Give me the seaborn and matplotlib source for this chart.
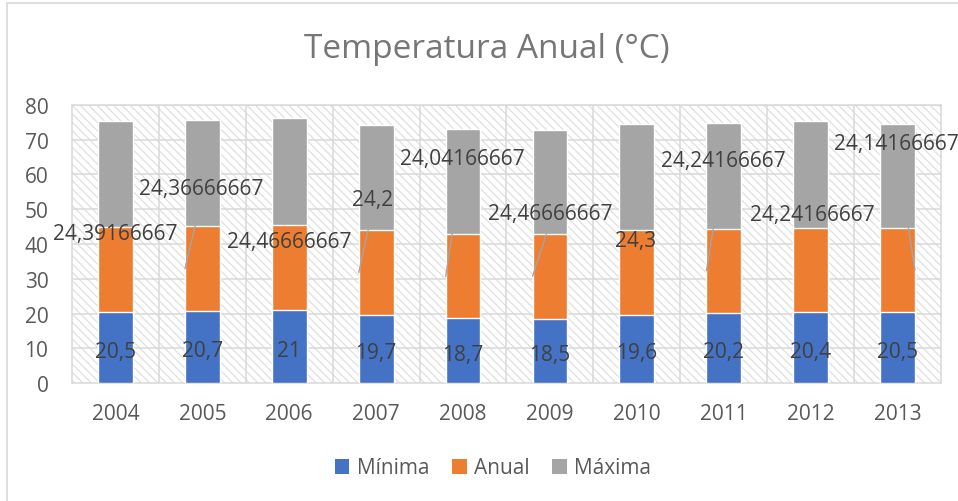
import matplotlib
matplotlib.use("Agg")
import matplotlib.pyplot as plt
import seaborn as sns
import numpy as np
import pandas as pd
from matplotlib.patches import Rectangle

# ---- data ----
years = ["2004", "2005", "2006", "2007", "2008", "2009", "2010", "2011", "2012", "2013"]
minima = [20.5, 20.7, 21, 19.7, 18.7, 18.5, 19.6, 20.2, 20.4, 20.5]
anual = [24.39166667, 24.36666667, 24.46666667, 24.2, 24.04166667,
         24.46666667, 24.3, 24.24166667, 24.24166667, 24.14166667]
anual_labels = ["24,39166667", "24,36666667", "24,46666667", "24,2", "24,04166667",
                "24,46666667", "24,3", "24,24166667", "24,24166667", "24,14166667"]
minima_labels = ["20,5", "20,7", "21", "19,7", "18,7", "18,5", "19,6", "20,2", "20,4", "20,5"]
maxima = [30.3, 30.6, 30.6, 30.3, 30.3, 29.7, 30.6, 30.4, 30.6, 29.8]
series = ["Mínima", "Anual", "Máxima"]

# ---- label layout (positions of the Anual data labels, data coords) ----
anual_lab_x = [0.0, 0.99, 2.0, 2.96, 3.99, 5.0, 5.99, 6.99, 8.02, 8.99]
anual_lab_y = [42.9, 55.8, 40.6, 52.9, 64.5, 48.9, 41.1, 63.9, 48.6, 68.8]
leader_side = [0, -1, 0, -1, -1, -1, 0, -1, 0, 1]

colors = {"Mínima": "#4472C4", "Anual": "#ED7D31", "Máxima": "#A5A5A5"}

df = pd.DataFrame({"year": years, "min": minima, "anual": anual, "max": maxima})
df["s1"] = df["min"]
df["s2"] = df["min"] + df["anual"]
df["s3"] = df["s2"] + df["max"]

sns.set_style("white")
plt.rcParams["font.family"] = ["Open Sans", "DejaVu Sans"]
plt.rcParams["hatch.linewidth"] = 0.8

fig = plt.figure(figsize=(9.58, 5.02), dpi=100)
ax = fig.add_axes([72 / 958, 1 - 384.3 / 502, (941 - 72) / 958, (384.3 - 105.7) / 502])

# hatched plot-area background
bg = Rectangle((0, 0), 1, 1, transform=ax.transAxes, facecolor="white",
               edgecolor="#dcdcdc", hatch="\\\\\\\\", lw=0, zorder=0)
ax.add_patch(bg)

sns.barplot(data=df, x="year", y="s3", color=colors["Máxima"], width=0.4,
            saturation=1, ax=ax, zorder=3)
sns.barplot(data=df, x="year", y="s2", color=colors["Anual"], width=0.4,
            saturation=1, ax=ax, zorder=3)
sns.barplot(data=df, x="year", y="s1", color=colors["Mínima"], width=0.4,
            saturation=1, ax=ax, zorder=3)

ax.set_ylim(0, 80)
ax.set_xlim(-0.5, len(years) - 0.5)
ax.set_yticks(np.arange(0, 81, 10))
grid_c = "#d9d9d9"
for yv in np.arange(10, 81, 10):
    ax.axhline(yv, color=grid_c, lw=1.1, zorder=1)
for xv in np.arange(0.5, len(years) - 0.5, 1):
    ax.axvline(xv, color=grid_c, lw=1.1, zorder=1)
for s in ax.spines.values():
    s.set_color(grid_c)
    s.set_linewidth(1.1)
    s.set_visible(True)

ax.set_xlabel("")
ax.set_ylabel("")
ax.tick_params(axis="both", length=0, labelsize=15, labelcolor="#595959")
ax.tick_params(axis="y", pad=17)
ax.tick_params(axis="x", pad=14)

txt_c = "#404040"
for i in range(len(years)):
    ax.text(i, minima[i] / 2 - 1.0, minima_labels[i], ha="center", va="center",
            fontsize=15, color=txt_c, zorder=5)
    ax.text(anual_lab_x[i], anual_lab_y[i], anual_labels[i], ha="center", va="center",
            fontsize=15, color=txt_c, zorder=5, clip_on=False)
    if leader_side[i] != 0:
        ymid = minima[i] + anual[i] / 2
        ax.plot([i + 0.2 * leader_side[i], anual_lab_x[i]],
                [ymid, anual_lab_y[i] - 2.9], color="#A5A5A5", lw=1.0, zorder=4)

fig.text(487 / 958, 1 - 50 / 502, "Temperatura Anual (°C)", ha="center", va="center",
         fontsize=24, color="#767676", family=["Open Sans", "DejaVu Sans"])

handles = [Rectangle((0, 0), 1, 1, facecolor=colors[s], edgecolor="none") for s in series]
fig.legend(handles, series, loc="center", bbox_to_anchor=(493 / 958, 1 - 469 / 502),
           ncol=3, frameon=False, fontsize=15, handlelength=0.7, handleheight=0.7,
           handletextpad=0.35, columnspacing=1.1, labelcolor="#595959")

# outer chart border (left/top visible)
fig.patches.append(Rectangle((7 / 958, -0.2), 2, 1 - 4 / 502 + 0.2, transform=fig.transFigure,
                             facecolor="none", edgecolor="#d9d9d9", lw=1.2))

fig.savefig("out.png", dpi=100)
